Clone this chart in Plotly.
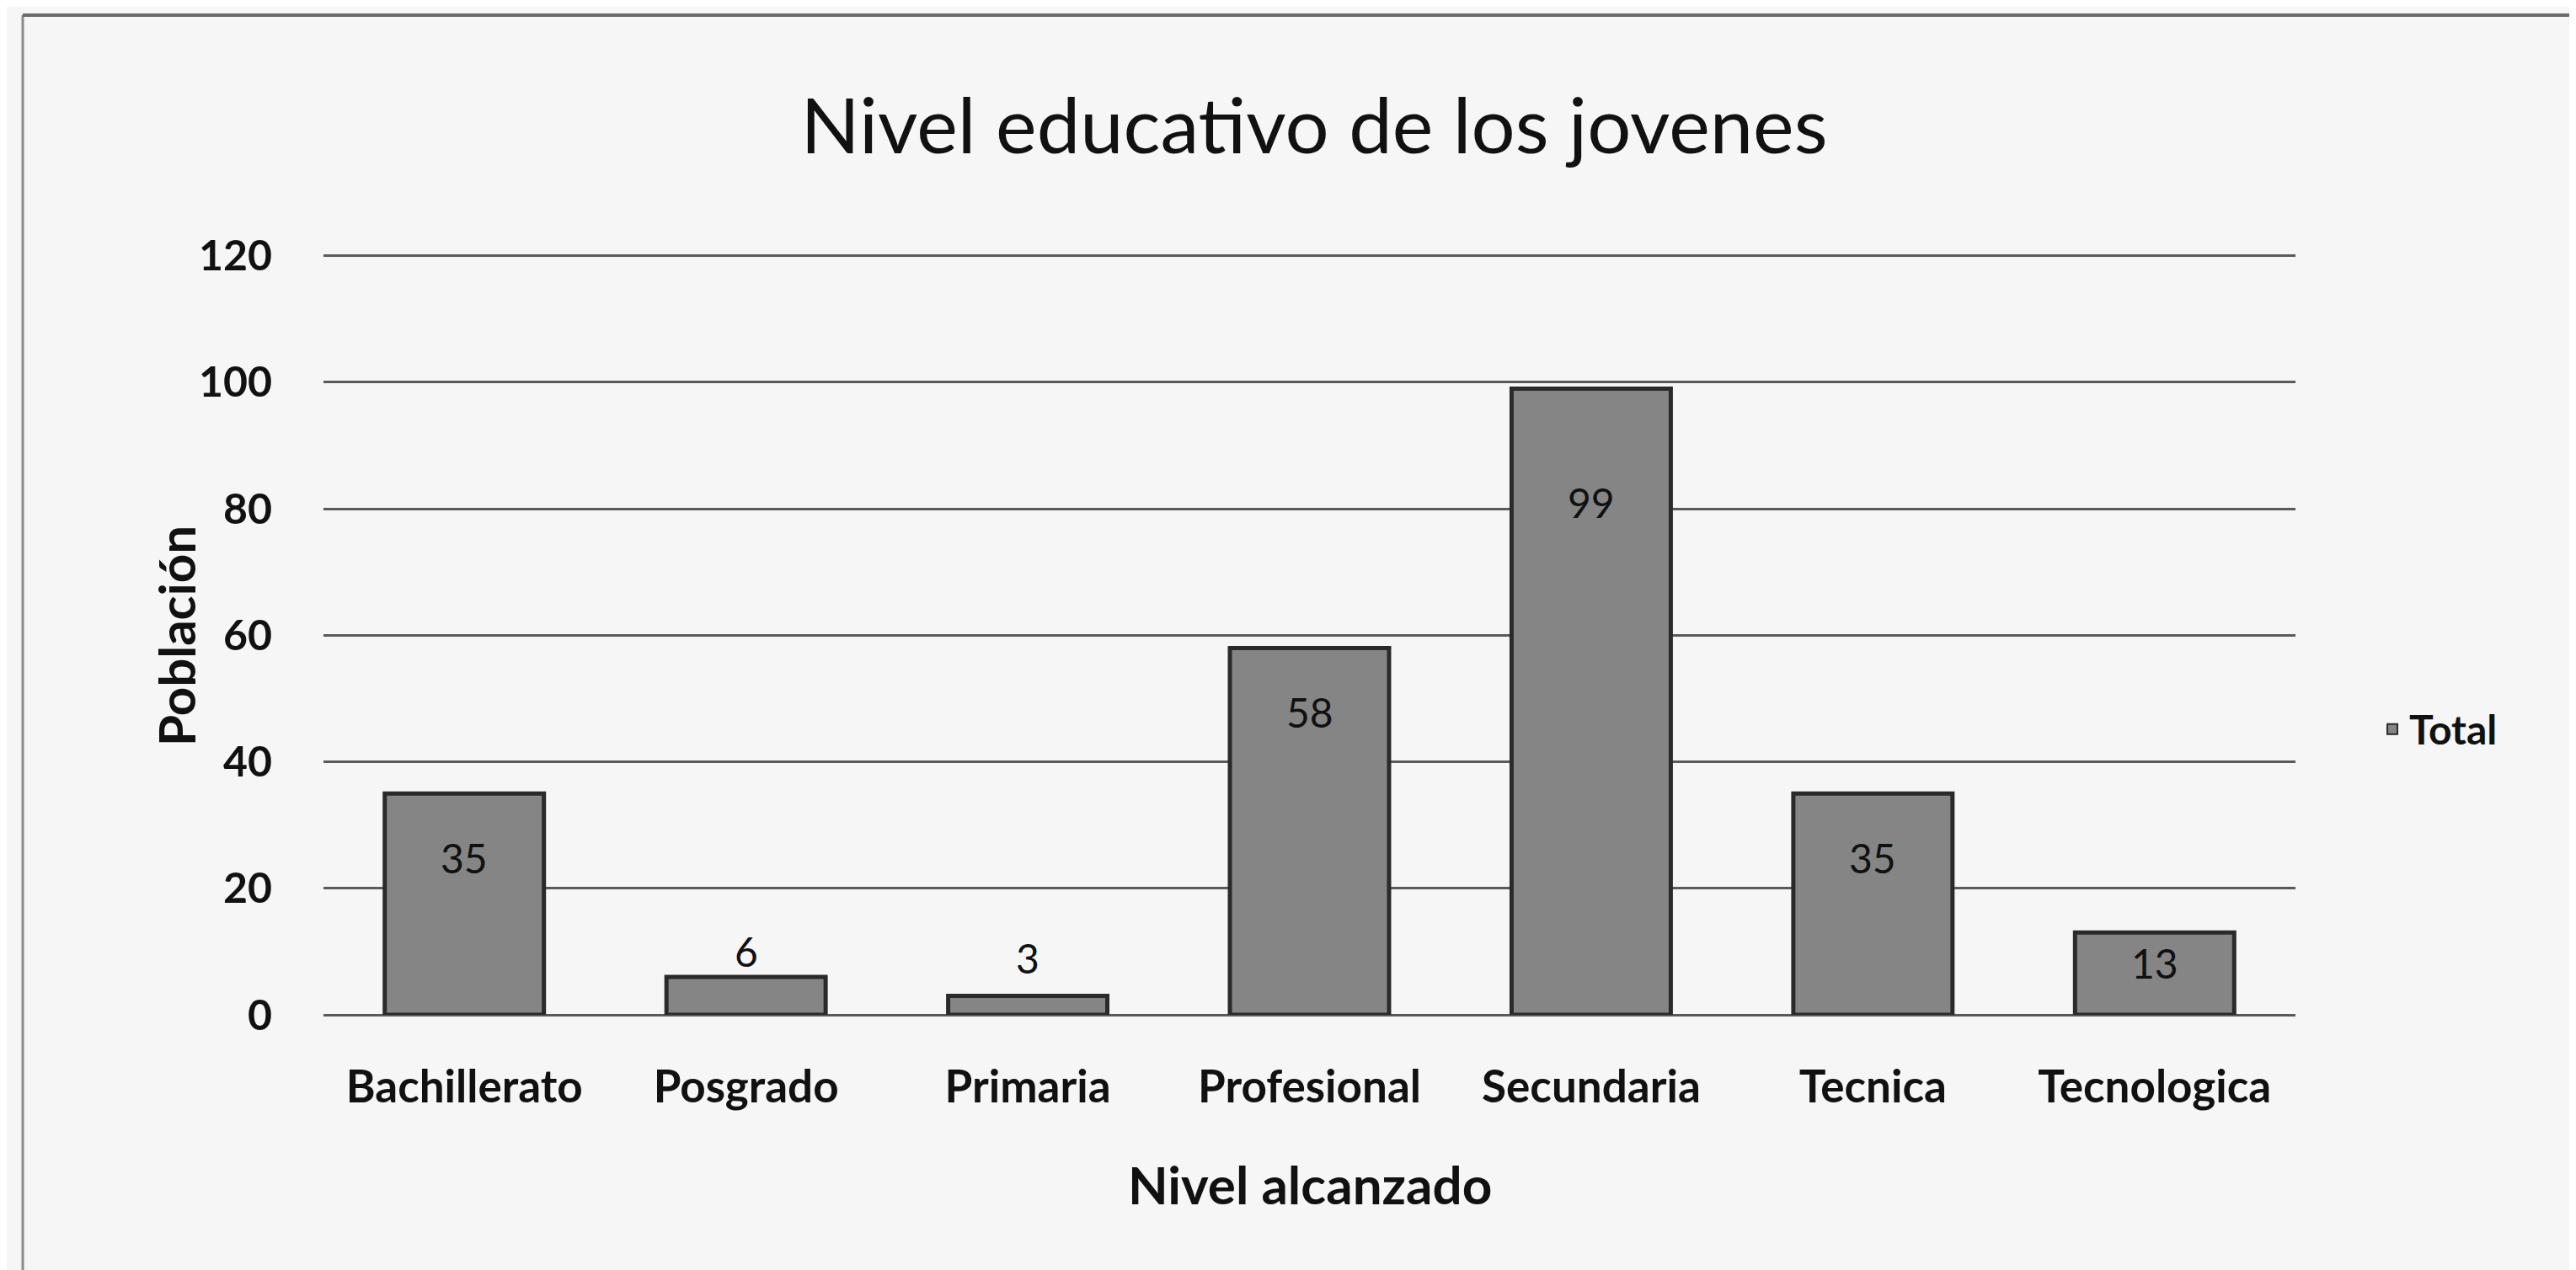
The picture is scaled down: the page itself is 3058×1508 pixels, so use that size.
import plotly.graph_objects as go

categories = ["Bachillerato", "Posgrado", "Primaria", "Profesional", "Secundaria", "Tecnica", "Tecnologica"]
values = [35, 6, 3, 58, 99, 35, 13]
y_ticks = [0, 20, 40, 60, 80, 100, 120]

W, H = 3058, 1508
ML, MR, MT, MB = 376, 341, 292, 311
PW = W - ML - MR
PH = H - MT - MB
YMAX = 120.5
FONT = "Lato, 'Open Sans', sans-serif"

fig = go.Figure()
fig.add_trace(go.Bar(
    x=categories, y=values, name="<b>Total</b>",
    marker=dict(color="#858585", line=dict(color="#2a2a2a", width=5)),
    width=0.565, showlegend=True, hoverinfo="skip",
))

annotations = []
for c, v in zip(categories, values):
    if v >= 20:
        shift, anchor = (-76 if v < 90 else -135), "middle"
    elif v >= 10:
        shift, anchor = -36, "middle"
    else:
        shift, anchor = (0 if v > 4 else 14), "bottom"
    annotations.append(dict(x=c, y=v, xref="x", yref="y", text=str(v), showarrow=False,
                            yanchor=anchor, yshift=shift,
                            font=dict(family=FONT, size=48, color="#111")))

# axis titles
annotations.append(dict(x=0.5, y=(1197 - 1398) / PH, xref="paper", yref="paper",
                        text="<b>Nivel alcanzado</b>", showarrow=False,
                        font=dict(family=FONT, size=62, color="#111"),
                        xanchor="center", yanchor="middle"))
annotations.append(dict(x=(201 - ML) / PW, y=(1197 - 747) / PH, xref="paper", yref="paper",
                        text="<b>Población</b>", showarrow=False, textangle=-90,
                        font=dict(family=FONT, size=60, color="#111"),
                        xanchor="center", yanchor="middle"))

shapes = [
    dict(type="line", xref="paper", yref="paper",
         x0=(19 - ML) / PW, x1=(19 - ML) / PW, y0=(H - MB - 10) / PH, y1=-(MB) / PH,
         line=dict(color="#8a8a8a", width=3)),
    dict(type="line", xref="paper", yref="paper",
         x0=(19 - ML) / PW, x1=(W - ML) / PW, y0=(H - MB - 10) / PH, y1=(H - MB - 10) / PH,
         line=dict(color="#6a6a6a", width=4)),
]

fig.update_layout(
    width=W, height=H,
    margin=dict(l=ML, r=MR, t=MT, b=MB, autoexpand=False),
    paper_bgcolor="#f6f6f6", plot_bgcolor="#f6f6f6",
    title=dict(text="Nivel educativo de los jovenes", x=1552 / W, xanchor="center",
               y=1 - 142 / H, yanchor="middle",
               font=dict(family=FONT, size=92, color="#111")),
    bargap=0.435,
    xaxis=dict(type="category", showgrid=False, showline=False, ticks="",
               tickfont=dict(family=FONT, size=53, color="#111"),
               ticklabelstandoff=50, tickprefix="<b>", ticksuffix="</b>"),
    yaxis=dict(range=[0, YMAX], tickvals=y_ticks, ticktext=[f"<b>{t}</b>" for t in y_ticks],
               showgrid=True, gridcolor="#5a5a5a",
               gridwidth=3, zeroline=True, zerolinecolor="#5a5a5a", zerolinewidth=3,
               showline=False, ticks="",
               tickfont=dict(family=FONT, size=50, color="#111"),
               ticklabelstandoff=60),
    legend=dict(x=(2812 - ML) / PW, y=(1197 - 858) / PH, xanchor="left", yanchor="middle",
                font=dict(family=FONT, size=48, color="#111"), bgcolor="rgba(0,0,0,0)",
                itemsizing="constant"),
    annotations=annotations,
    shapes=shapes,
    showlegend=True,
)

fig.write_html("out.html")
